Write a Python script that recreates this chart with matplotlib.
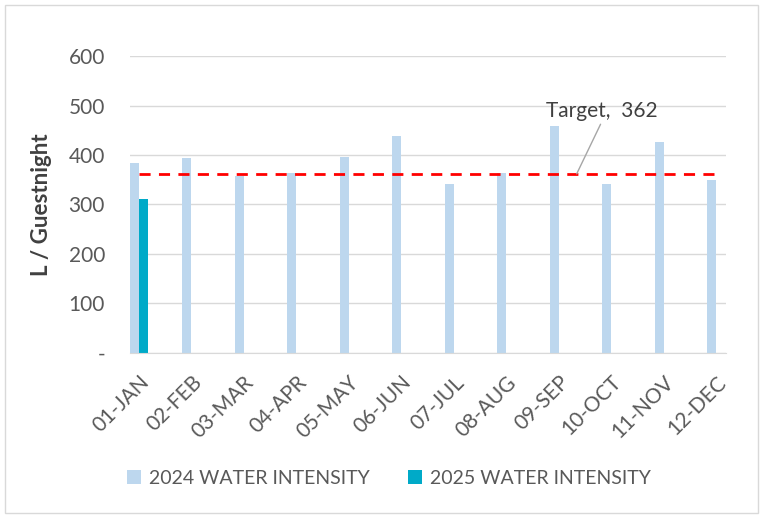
import numpy as np
import matplotlib
matplotlib.use("Agg")
import matplotlib.pyplot as plt
from matplotlib.patches import Rectangle

months = ['01-JAN', '02-FEB', '03-MAR', '04-APR', '05-MAY', '06-JUN',
          '07-JUL', '08-AUG', '09-SEP', '10-OCT', '11-NOV', '12-DEC']
water_2024 = [383, 394, 358, 363, 396, 439, 341, 363, 459, 341, 426, 350]
water_2025 = [311]
target = 362
y_ticks = [0, 100, 200, 300, 400, 500, 600]
y_tick_labels = ['-', '100', '200', '300', '400', '500', '600']

plt.rcParams['font.family'] = ['Lato', 'DejaVu Sans']

fig = plt.figure(figsize=(7.64, 5.16), dpi=100)
ax = fig.add_axes([0.170, 0.3165, 0.780, 0.5745])

x = np.arange(len(months))
w = 0.171
ax.bar(x - w/2, water_2024, width=w, color='#BDD7EE', label='2024 WATER INTENSITY', zorder=2)
ax.bar(x[:len(water_2025)] + w/2, water_2025, width=w, color='#00AAC8', label='2025 WATER INTENSITY', zorder=2)
ax.plot(x, [target]*len(x), color='#FF0000', linestyle=(0, (4, 3)), linewidth=2, zorder=3)

ax.annotate('Target,  362', xy=(8.34, target), xytext=(8.82, 468),
            color='#404040', fontsize=15, ha='center', va='bottom',
            arrowprops=dict(arrowstyle='-', color='#A6A6A6', lw=1, shrinkA=0, shrinkB=0,
                            relpos=(0.5, 0)))

ax.set_xlim(-0.171, 11.18)
ax.set_ylim(0, 600)
ax.set_yticks(y_ticks)
ax.set_yticklabels(y_tick_labels)
ax.set_xticks(x)
ax.set_xticklabels(months, rotation=45, ha='right', rotation_mode='anchor')
ax.tick_params(axis='both', length=0, colors='#595959')
ax.tick_params(axis='y', pad=18, labelsize=15)
ax.tick_params(axis='x', pad=14, labelsize=15)
ax.yaxis.grid(True, color='#D9D9D9', linewidth=1)
ax.set_axisbelow(True)
for side in ['top', 'right', 'left']:
    ax.spines[side].set_visible(False)
ax.spines['bottom'].set_color('#D9D9D9')
ax.set_ylabel('L / Guestnight', fontsize=16, fontweight='bold', color='#404040', labelpad=12)

fig.legend(loc='center', bbox_to_anchor=(0.509, 1 - 478/516), ncol=2, frameon=False,
           fontsize=14, labelcolor='#595959', handlelength=0.7, handleheight=0.7,
           handletextpad=0.4, columnspacing=2.0)

fig.patches.append(Rectangle((5/764, 3/516), 753/764, 508/516, transform=fig.transFigure,
                             fill=False, edgecolor='#D9D9D9', linewidth=1))

fig.savefig('out.png', dpi=100)
